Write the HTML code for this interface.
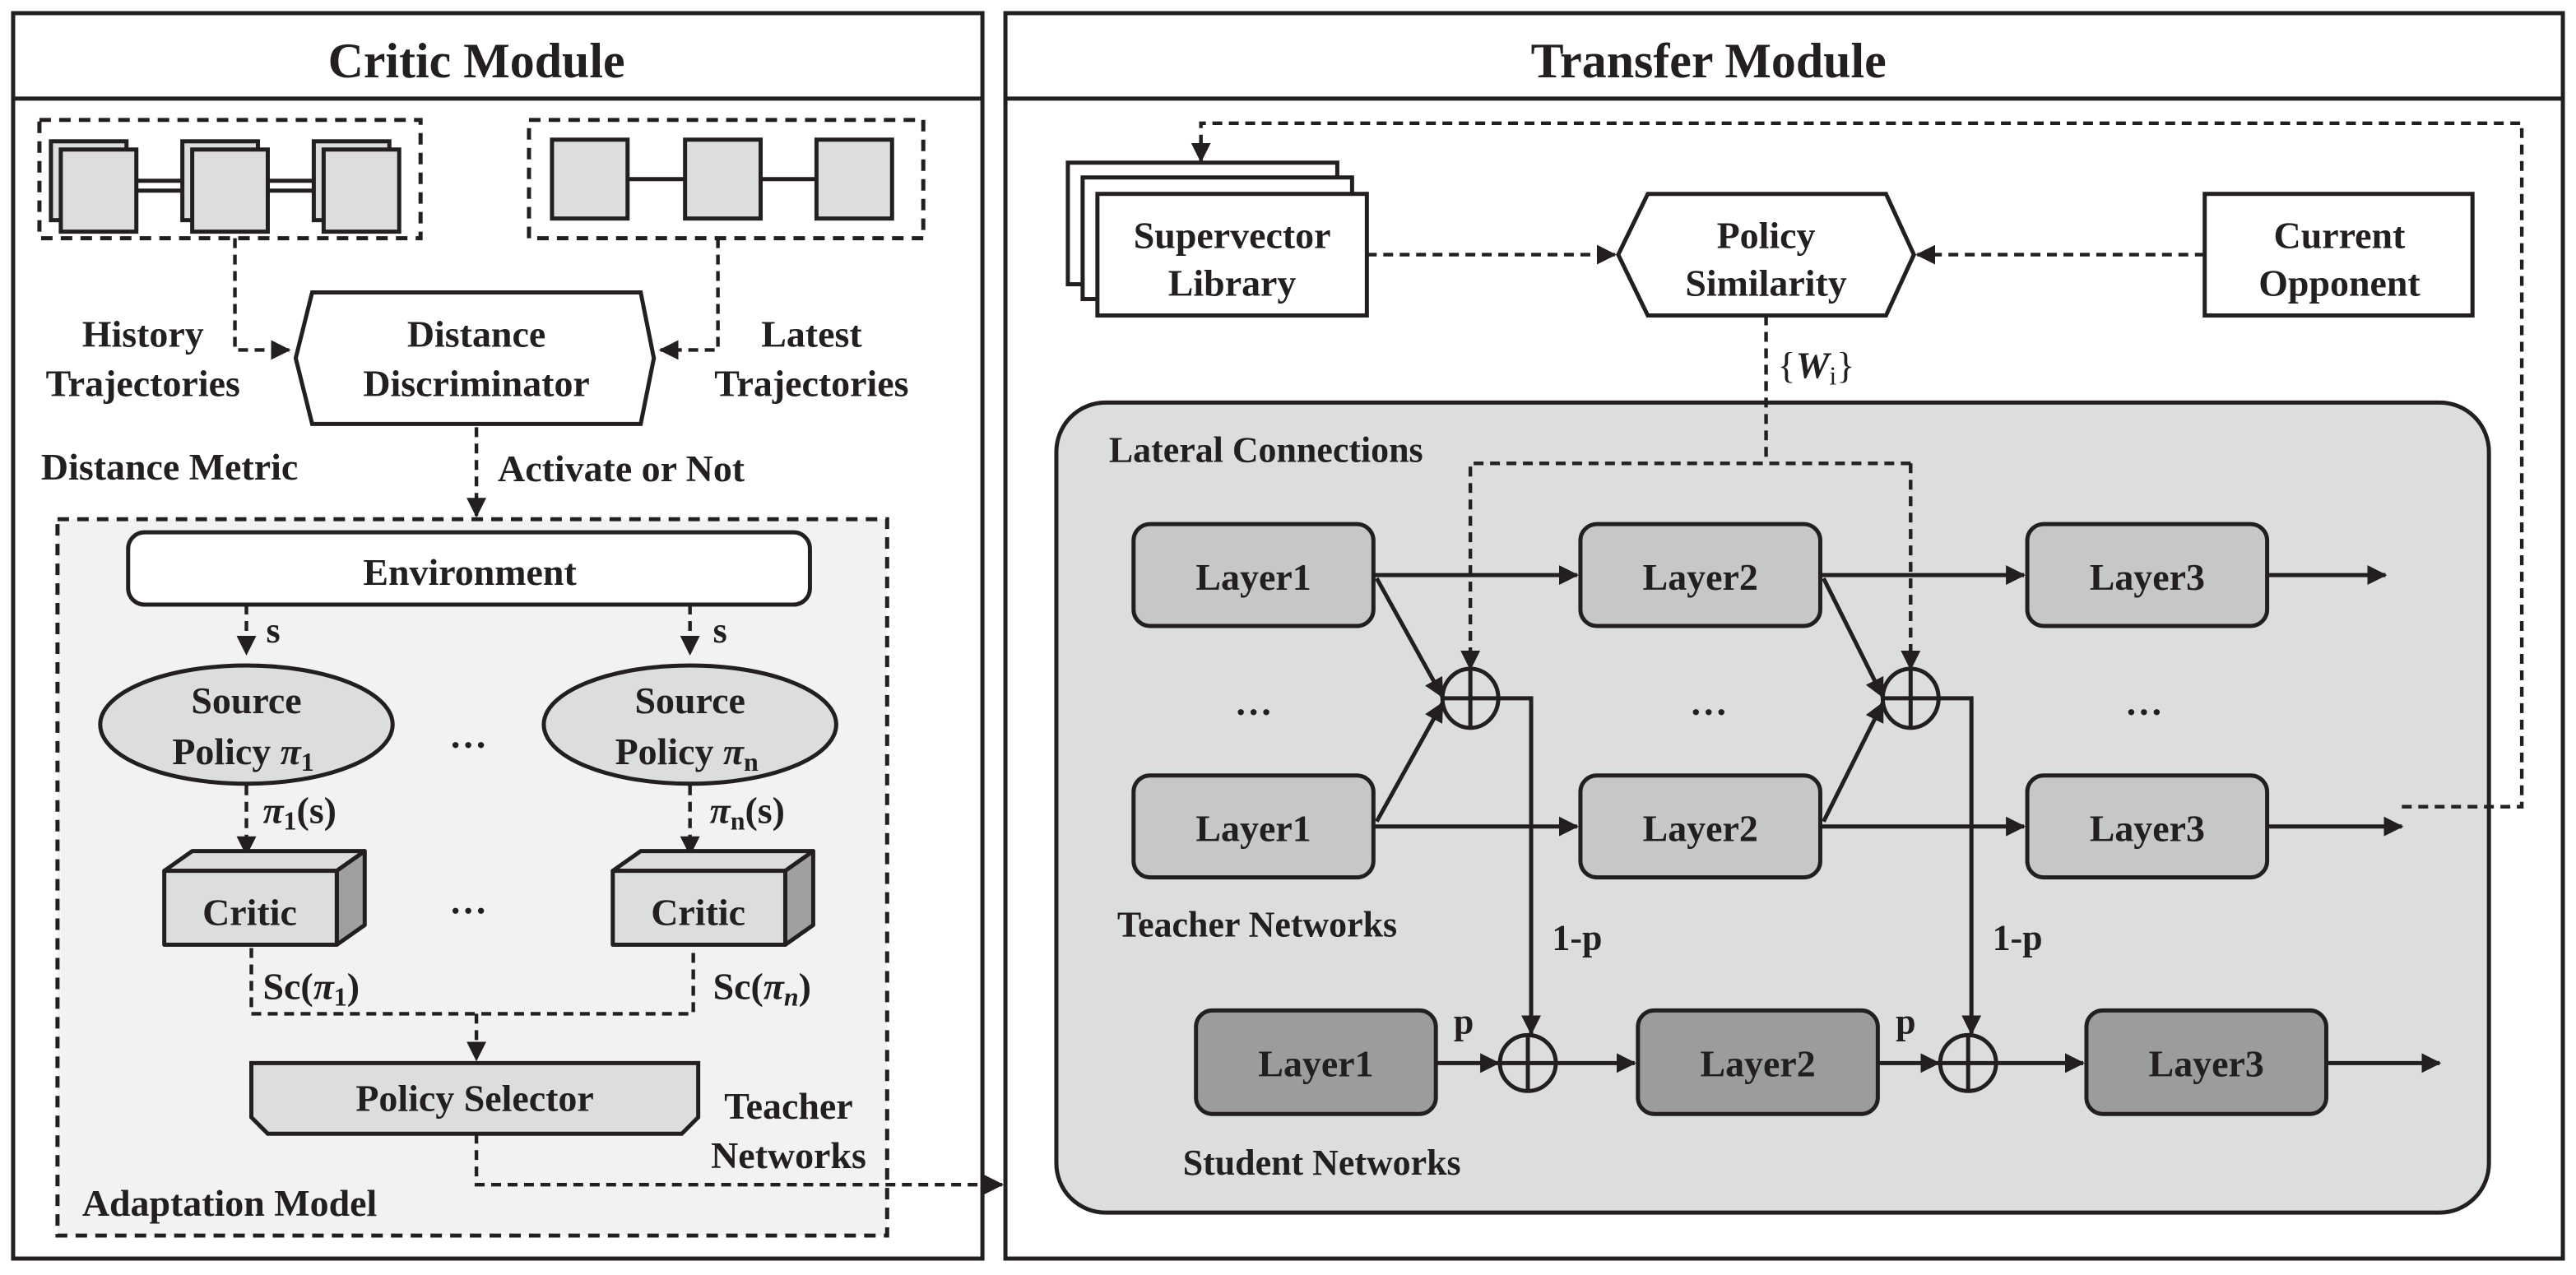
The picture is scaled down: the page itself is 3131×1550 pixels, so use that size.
<!DOCTYPE html>
<html><head><meta charset="utf-8"><style>
html,body{margin:0;padding:0;background:#fff}
svg{display:block}
text{font-family:"Liberation Serif",serif;font-weight:bold;fill:#231f20}
</style></head><body>
<svg width="3131" height="1550" viewBox="0 0 1568 776" preserveAspectRatio="none" xmlns="http://www.w3.org/2000/svg">
<defs>
<marker id="a" markerWidth="12" markerHeight="12" refX="11" refY="6" orient="auto" markerUnits="userSpaceOnUse"><path d="M0,0 L12,6 L0,12 z" fill="#231f20"/></marker>
</defs>
<g stroke="#231f20" stroke-width="2.5" fill="none">
<rect x="8" y="8" width="590" height="758"/>
<line x1="8" y1="60" x2="598" y2="60"/>
<rect x="612" y="8" width="948" height="758"/>
<line x1="612" y1="60" x2="1560" y2="60"/>
</g>
<text x="290" y="47" font-size="30" text-anchor="middle">Critic Module</text>
<text x="1040" y="47" font-size="30" text-anchor="middle">Transfer Module</text>

<g stroke="#231f20" stroke-width="2.5" fill="none" stroke-dasharray="7,5">
<rect x="24" y="73" width="232" height="72"/>
<rect x="322" y="73" width="240" height="72"/>
<rect x="35" y="316" width="505" height="436" fill="#f2f2f2"/>
</g>
<g stroke="#231f20" stroke-width="2.5" fill="#dcdddf">
<line x1="80" y1="110" x2="200" y2="110"/><line x1="80" y1="116" x2="200" y2="116"/>
<rect x="31" y="86" width="46" height="48"/><rect x="37" y="91" width="46" height="50"/>
<rect x="111" y="86" width="46" height="48"/><rect x="117" y="91" width="46" height="50"/>
<rect x="191" y="86" width="46" height="48"/><rect x="197" y="91" width="46" height="50"/>
<line x1="382" y1="109" x2="497" y2="109"/>
<rect x="336" y="85" width="46" height="48"/><rect x="417" y="85" width="46" height="48"/><rect x="497" y="85" width="46" height="48"/>
</g>
<polygon points="190,178 390,178 398,218 390,258 190,258 180,218" fill="#fff" stroke="#231f20" stroke-width="2.5"/>
<text x="290" y="211" font-size="23" text-anchor="middle">Distance</text>
<text x="290" y="241" font-size="23" text-anchor="middle">Discriminator</text>
<text x="87" y="211" font-size="23" text-anchor="middle">History</text>
<text x="87" y="241" font-size="23" text-anchor="middle">Trajectories</text>
<text x="494" y="211" font-size="23" text-anchor="middle">Latest</text>
<text x="494" y="241" font-size="23" text-anchor="middle">Trajectories</text>
<text x="25" y="292" font-size="23">Distance Metric</text>
<text x="303" y="293" font-size="23">Activate or Not</text>
<g stroke="#231f20" stroke-width="2.2" fill="none" stroke-dasharray="6,4">
<path d="M143,145 V213 H176" marker-end="url(#a)"/>
<path d="M437,145 V213 H402" marker-end="url(#a)"/>
<path d="M290,260 V314" marker-end="url(#a)"/>
<path d="M150,368 V398" marker-end="url(#a)"/>
<path d="M420,368 V398" marker-end="url(#a)"/>
<path d="M150,478 V520" marker-end="url(#a)"/>
<path d="M420,478 V520" marker-end="url(#a)"/>
<path d="M153,577 V617 H422 V577"/>
<path d="M290,617 V645" marker-end="url(#a)"/>
<path d="M290,690 V721 H610" marker-end="url(#a)"/>
</g>
<rect x="78" y="324" width="415" height="44" rx="10" fill="#fff" stroke="#231f20" stroke-width="2.5"/>
<text x="286" y="356" font-size="23" text-anchor="middle">Environment</text>
<text x="162" y="391" font-size="22">s</text><text x="434" y="391" font-size="22">s</text>
<ellipse cx="150" cy="441" rx="89" ry="36" fill="#dcdddf" stroke="#231f20" stroke-width="2.5"/>
<ellipse cx="420" cy="441" rx="89" ry="36" fill="#dcdddf" stroke="#231f20" stroke-width="2.5"/>
<text x="150" y="434" font-size="23" text-anchor="middle">Source</text>
<text x="148" y="465" font-size="23" text-anchor="middle">Policy <tspan font-style="italic">π</tspan><tspan font-size="16" dy="4">1</tspan></text>
<text x="420" y="434" font-size="23" text-anchor="middle">Source</text>
<text x="418" y="465" font-size="23" text-anchor="middle">Policy <tspan font-style="italic">π</tspan><tspan font-size="16" dy="4">n</tspan></text>
<text x="285" y="455" font-size="23" text-anchor="middle">…</text>
<text x="160" y="501" font-size="23"><tspan font-style="italic">π</tspan><tspan font-size="16" dy="4">1</tspan><tspan dy="-4">(s)</tspan></text>
<text x="432" y="501" font-size="23"><tspan font-style="italic">π</tspan><tspan font-size="16" dy="4">n</tspan><tspan dy="-4">(s)</tspan></text>
<g stroke="#231f20" stroke-width="2.5" stroke-linejoin="round">
<polygon points="100,530 117,518 222,518 205,530" fill="#dcdddf"/>
<polygon points="205,530 222,518 222,563 205,575" fill="#a0a0a2"/>
<rect x="100" y="530" width="105" height="45" fill="#dcdddf"/>
<polygon points="373,530 390,518 495,518 478,530" fill="#dcdddf"/>
<polygon points="478,530 495,518 495,563 478,575" fill="#a0a0a2"/>
<rect x="373" y="530" width="105" height="45" fill="#dcdddf"/>
</g>
<text x="152" y="563" font-size="23" text-anchor="middle">Critic</text>
<text x="425" y="563" font-size="23" text-anchor="middle">Critic</text>
<text x="285" y="556" font-size="23" text-anchor="middle">…</text>
<text x="160" y="608" font-size="23">Sc(<tspan font-style="italic">π</tspan><tspan font-size="16" dy="4">1</tspan><tspan dy="-4">)</tspan></text>
<text x="434" y="608" font-size="23">Sc(<tspan font-style="italic">π</tspan><tspan font-size="16" dy="4" font-style="italic">n</tspan><tspan dy="-4">)</tspan></text>
<polygon points="153,647 425,647 425,680 415,690 163,690 153,680" fill="#dcdddf" stroke="#231f20" stroke-width="2.5"/>
<text x="289" y="676" font-size="23" text-anchor="middle">Policy Selector</text>
<text x="480" y="681" font-size="23" text-anchor="middle">Teacher</text>
<text x="480" y="711" font-size="23" text-anchor="middle">Networks</text>
<text x="50" y="740" font-size="23">Adaptation Model</text>

<rect x="643" y="245" width="872" height="493" rx="30" fill="#dcdddf" stroke="#231f20" stroke-width="2.5"/>
<g stroke="#231f20" stroke-width="2.5" fill="#fff">
<rect x="650" y="99" width="164" height="74"/>
<rect x="659" y="108" width="164" height="74"/>
<rect x="668" y="118" width="164" height="74"/>
<polygon points="1003,118 1148,118 1165,155 1148,192 1003,192 985,155"/>
<rect x="1342" y="118" width="163" height="74"/>
</g>
<text x="750" y="151" font-size="23" text-anchor="middle">Supervector</text>
<text x="750" y="180" font-size="23" text-anchor="middle">Library</text>
<text x="1075" y="151" font-size="23" text-anchor="middle">Policy</text>
<text x="1075" y="180" font-size="23" text-anchor="middle">Similarity</text>
<text x="1424" y="151" font-size="23" text-anchor="middle">Current</text>
<text x="1424" y="180" font-size="23" text-anchor="middle">Opponent</text>
<text x="1082" y="230" font-size="23" style="font-weight:normal">{<tspan font-style="italic" font-weight="bold">W</tspan><tspan font-size="16" dy="4">i</tspan><tspan dy="-4">}</tspan></text>
<text x="675" y="281" font-size="22">Lateral Connections</text>
<g stroke="#231f20" stroke-width="2.2" fill="none" stroke-dasharray="6,4">
<path d="M832,155 H983" marker-end="url(#a)"/>
<path d="M1342,155 H1167" marker-end="url(#a)"/>
<path d="M1462,491 H1535 V75 H731 V98" marker-end="url(#a)"/>
<path d="M1075,192 V282"/>
<path d="M1163,282 H895 V407" marker-end="url(#a)"/>
<path d="M1163,282 V407" marker-end="url(#a)"/>
</g>
<g stroke="#231f20" stroke-width="2.5">
<rect x="690" y="319" width="146" height="62" rx="10" fill="#c6c7c9"/>
<rect x="962" y="319" width="146" height="62" rx="10" fill="#c6c7c9"/>
<rect x="1234" y="319" width="146" height="62" rx="10" fill="#c6c7c9"/>
<rect x="690" y="472" width="146" height="62" rx="10" fill="#c6c7c9"/>
<rect x="962" y="472" width="146" height="62" rx="10" fill="#c6c7c9"/>
<rect x="1234" y="472" width="146" height="62" rx="10" fill="#c6c7c9"/>
<rect x="728" y="615" width="146" height="63" rx="10" fill="#9b9c9e"/>
<rect x="997" y="615" width="146" height="63" rx="10" fill="#9b9c9e"/>
<rect x="1270" y="615" width="146" height="63" rx="10" fill="#9b9c9e"/>
</g>
<g font-size="23" text-anchor="middle">
<text x="763" y="359">Layer1</text><text x="1035" y="359">Layer2</text><text x="1307" y="359">Layer3</text>
<text x="763" y="512">Layer1</text><text x="1035" y="512">Layer2</text><text x="1307" y="512">Layer3</text>
<text x="801" y="655">Layer1</text><text x="1070" y="655">Layer2</text><text x="1343" y="655">Layer3</text>
<text x="763" y="435">…</text><text x="1040" y="435">…</text><text x="1305" y="435">…</text>
</g>
<text x="680" y="570" font-size="22">Teacher Networks</text>
<text x="720" y="715" font-size="22">Student Networks</text>
<text x="960" y="578" font-size="22" text-anchor="middle">1-p</text>
<text x="1228" y="578" font-size="22" text-anchor="middle">1-p</text>
<text x="891" y="629" font-size="22" text-anchor="middle">p</text>
<text x="1160" y="629" font-size="22" text-anchor="middle">p</text>
<g stroke="#231f20" stroke-width="2.5" fill="none">
<path d="M836,350 H960" marker-end="url(#a)"/>
<path d="M1108,350 H1232" marker-end="url(#a)"/>
<path d="M1380,350 H1452" marker-end="url(#a)"/>
<path d="M836,503 H960" marker-end="url(#a)"/>
<path d="M1108,503 H1232" marker-end="url(#a)"/>
<path d="M1380,503 H1462" marker-end="url(#a)"/>
<path d="M838,352 L878,424" marker-end="url(#a)"/>
<path d="M838,500 L878,428" marker-end="url(#a)"/>
<path d="M1110,352 L1146,424" marker-end="url(#a)"/>
<path d="M1110,500 L1146,428" marker-end="url(#a)"/>
<path d="M895,425 H932 V629" marker-end="url(#a)"/>
<path d="M1163,425 H1200 V629" marker-end="url(#a)"/>
<path d="M874,647 H912" marker-end="url(#a)"/>
<path d="M948,647 H995" marker-end="url(#a)"/>
<path d="M1143,647 H1180" marker-end="url(#a)"/>
<path d="M1216,647 H1268" marker-end="url(#a)"/>
<path d="M1416,647 H1485" marker-end="url(#a)"/>
<ellipse cx="895" cy="425" rx="17" ry="18" fill="#dcdddf"/><path d="M878,425 H912 M895,407 V443"/>
<ellipse cx="1163" cy="425" rx="17" ry="18" fill="#dcdddf"/><path d="M1146,425 H1180 M1163,407 V443"/>
<circle cx="930" cy="647" r="17" fill="#dcdddf"/><path d="M913,647 H947 M930,630 V664"/>
<circle cx="1198" cy="647" r="17" fill="#dcdddf"/><path d="M1181,647 H1215 M1198,630 V664"/>
</g>
</svg>
</body></html>
